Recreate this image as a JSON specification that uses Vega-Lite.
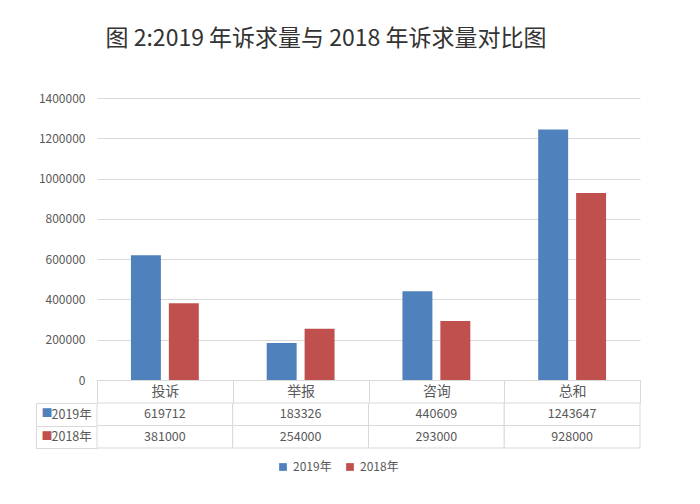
{
  "$schema": "https://vega.github.io/schema/vega-lite/v6.json",
  "padding": {"left": 35, "top": 28, "right": 10, "bottom": 10},
  "title": {"text": "图 2:2019 年诉求量与 2018 年诉求量对比图", "fontSize": 23, "font": "Noto Sans CJK SC", "fontWeight": "normal", "color": "#333333", "anchor": "middle", "frame": "bounds", "offset": 41, "dx": -12},
  "datasets": {
    "d": [
      {"cat": "投诉", "year": "2019年", "value": 619712},
      {"cat": "举报", "year": "2019年", "value": 183326},
      {"cat": "咨询", "year": "2019年", "value": 440609},
      {"cat": "总和", "year": "2019年", "value": 1243647},
      {"cat": "投诉", "year": "2018年", "value": 381000},
      {"cat": "举报", "year": "2018年", "value": 254000},
      {"cat": "咨询", "year": "2018年", "value": 293000},
      {"cat": "总和", "year": "2018年", "value": 928000}
    ]
  },
  "bounds": "flush",
  "spacing": 23,
  "vconcat": [
    {
      "width": 543,
      "height": 282,
      "data": {"name": "d"},
      "mark": {"type": "bar"},
      "encoding": {
        "x": {"field": "cat", "type": "nominal", "sort": ["投诉", "举报", "咨询", "总和"],
          "scale": {"paddingInner": 0, "paddingOuter": 0},
          "axis": {"title": null, "labelAngle": 0, "domainColor": "#d9d9d9", "tickColor": "#d9d9d9", "tickBand": "extent", "tickExtra": true, "tickSize": 23, "labelPadding": -11.5, "labelBaseline": "middle", "labelFontSize": 14, "labelColor": "#595959", "labelFont": "Noto Sans CJK SC", "minExtent": 23, "maxExtent": 23}},
        "xOffset": {"field": "year", "type": "nominal", "sort": ["2019年", "2018年"], "scale": {"paddingInner": 0.21, "paddingOuter": 0.895}},
        "y": {"field": "value", "type": "quantitative", "scale": {"domain": [0, 1400000]},
          "axis": {"title": null, "values": [0, 200000, 400000, 600000, 800000, 1000000, 1200000, 1400000], "format": "d", "domain": false, "ticks": false, "gridColor": "#d9d9d9", "labelColor": "#595959", "labelFontSize": 12, "labelFont": "Noto Sans CJK SC", "labelPadding": 12}},
        "color": {"field": "year", "type": "nominal", "sort": ["2019年", "2018年"],
          "scale": {"range": ["#4f81bd", "#c0504d"]},
          "legend": {"title": null, "orient": "none", "legendX": 180, "legendY": 363, "direction": "horizontal", "symbolType": "square", "symbolSize": 60, "labelFontSize": 12, "labelColor": "#595959", "labelFont": "Noto Sans CJK SC", "columnPadding": 12}}
      }
    },
    {
      "width": 543,
      "height": 45,
      "data": {"name": "d"},
      "resolve": {"axis": {"y": "independent"}},
      "layer": [
        {
          "mark": {"type": "rect", "fill": "white", "stroke": "#d9d9d9", "strokeWidth": 1},
          "encoding": {
            "x": {"field": "cat", "type": "nominal", "sort": ["投诉", "举报", "咨询", "总和"], "scale": {"paddingInner": 0, "paddingOuter": 0}, "axis": null},
            "y": {"field": "year", "type": "nominal", "sort": ["2019年", "2018年"], "scale": {"paddingInner": 0, "paddingOuter": 0},
              "axis": {"title": null, "orient": "left", "offset": 61, "domain": true, "domainColor": "#d9d9d9", "ticks": false, "tickSize": 0, "labelExpr": "'■'", "labelAlign": "left", "labelPadding": -5, "labelFontSize": 11, "labelColor": {"condition": {"test": "datum.value == '2019年'", "value": "#4f81bd"}, "value": "#c0504d"}}}
          }
        },
        {
          "mark": {"type": "text", "fontSize": 12.5, "color": "#595959", "font": "Noto Sans CJK SC"},
          "encoding": {
            "x": {"field": "cat", "type": "nominal", "sort": ["投诉", "举报", "咨询", "总和"], "axis": null},
            "y": {"field": "year", "type": "nominal", "sort": ["2019年", "2018年"],
              "axis": {"title": null, "orient": "left", "domain": false, "ticks": true, "tickBand": "extent", "tickExtra": true, "tickSize": 61, "tickColor": "#d9d9d9", "labelAlign": "left", "labelPadding": -15, "labelFontSize": 12.5, "labelColor": "#595959", "labelFont": "Noto Sans CJK SC"}},
            "text": {"field": "value", "type": "quantitative", "format": "d"}
          }
        }
      ]
    }
  ],
  "config": {"view": {"stroke": null}, "font": "Noto Sans CJK SC"}
}
